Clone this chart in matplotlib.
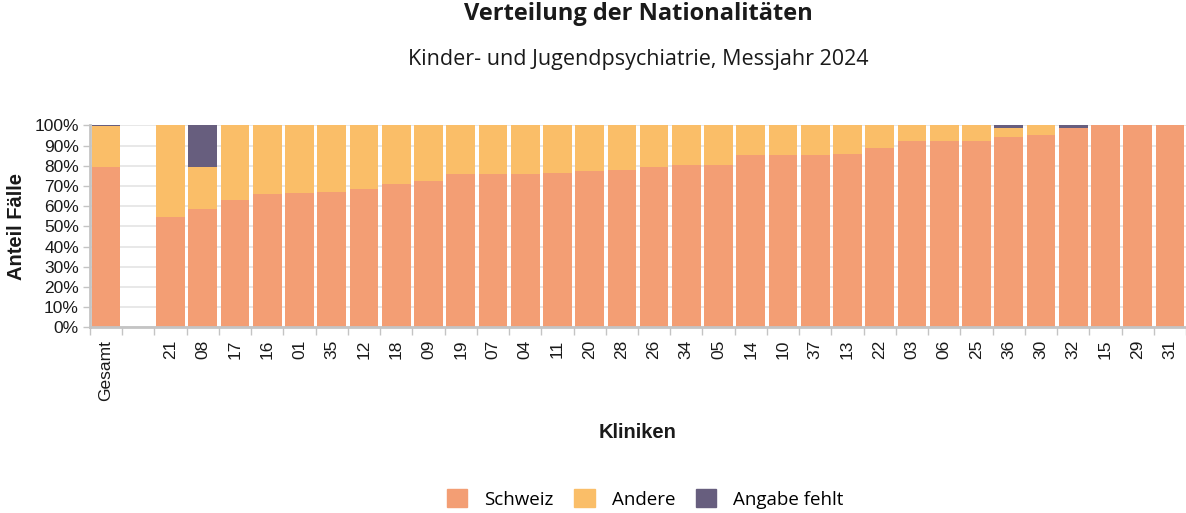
import numpy as np
import matplotlib
matplotlib.use("Agg")
import matplotlib.pyplot as plt
from matplotlib.patches import Patch

# Anteile pro Klinik in Prozent (leere Spalte trennt Gesamt von den Kliniken)
kliniken = ["Gesamt", "", "21", "08", "17", "16", "01", "35", "12", "18", "09", "19",
            "07", "04", "11", "20", "28", "26", "34", "05", "14", "10", "37", "13",
            "22", "03", "06", "25", "36", "30", "32", "15", "29", "31"]
schweiz = [79.2, 0, 54.5, 58.4, 63.0, 66.0, 66.5, 67.1, 68.3, 71.1, 72.3, 75.7,
           75.7, 75.7, 76.5, 77.4, 77.9, 79.5, 80.5, 80.5, 85.3, 85.3, 85.3, 85.8,
           88.9, 92.2, 92.2, 92.2, 94.2, 95.3, 98.5, 100, 100, 100]
andere = [20.3, 0, 45.5, 21.1, 37.0, 34.0, 33.5, 32.9, 31.7, 28.9, 27.7, 24.3,
          24.3, 24.3, 23.5, 22.6, 22.1, 20.5, 19.5, 19.5, 14.7, 14.7, 14.7, 14.2,
          11.1, 7.8, 7.8, 7.8, 4.3, 4.7, 0.2, 0, 0, 0]
fehlt = [0.5, 0, 0, 20.5, 0, 0, 0, 0, 0, 0, 0, 0,
         0, 0, 0, 0, 0, 0, 0, 0, 0, 0, 0, 0,
         0, 0, 0, 0, 1.5, 0, 1.3, 0, 0, 0]

farben = {"Schweiz": "#F39E74", "Andere": "#FABE68", "Angabe fehlt": "#675E7E"}
grau = "#c4c4c4"
textfarbe = "#1a1a1a"
schrift = "Liberation Sans"
titelschrift = "Open Sans"

fig = plt.figure(figsize=(11.86, 5.13), dpi=100)
ax = fig.add_axes([90 / 1186, 1 - 327.3 / 513, 1096 / 1186, 202 / 513])

x = np.arange(len(kliniken))
s = np.array(schweiz)
a = np.array(andere)
f = np.array(fehlt)
breite = 0.89
ax.bar(x, s, width=breite, color=farben["Schweiz"], zorder=2)
ax.bar(x, a, bottom=s, width=breite, color=farben["Andere"], zorder=2)
ax.bar(x, f, bottom=s + a, width=breite, color=farben["Angabe fehlt"], zorder=2)

ax.set_xlim(-0.5, len(kliniken) - 0.5)
ax.set_ylim(0, 100)

# Achsen
for seite in ["top", "right"]:
    ax.spines[seite].set_visible(False)
for seite in ["left", "bottom"]:
    ax.spines[seite].set_color(grau)
    ax.spines[seite].set_linewidth(2)
    ax.spines[seite].set_zorder(3)

ax.set_yticks(np.arange(0, 101, 10))
ax.set_yticklabels([f"{v}%" for v in range(0, 101, 10)], fontsize=12.5,
                   family=schrift, color=textfarbe)
ax.tick_params(axis="y", length=5, width=1, color=grau, pad=3)
ax.yaxis.grid(True, color="#e4e4e4", linewidth=1.2, zorder=0)

ax.set_xticks(np.arange(-0.5, len(kliniken), 1))
ax.set_xticklabels([])
ax.tick_params(axis="x", which="major", length=6, width=1, color=grau)
ax.set_xticks(x, minor=True)
ax.set_xticklabels(kliniken, minor=True, rotation=90, fontsize=12.5,
                   family=schrift, color=textfarbe)
ax.tick_params(axis="x", which="minor", length=0, pad=9)

ax.set_ylabel("Anteil Fälle", fontsize=14.5, fontweight="bold",
              family=schrift, color=textfarbe, labelpad=6)
ax.set_xlabel("Kliniken", fontsize=14.5, fontweight="bold",
              family=schrift, color=textfarbe, labelpad=16)

fig.text(638 / 1186, 1 - 14 / 513, "Verteilung der Nationalitäten", ha="center",
         va="center", fontsize=17, fontweight="bold", family=titelschrift,
         color=textfarbe)
fig.text(638 / 1186, 1 - 60 / 513, "Kinder- und Jugendpsychiatrie, Messjahr 2024",
         ha="center", va="center", fontsize=15.5, family=titelschrift,
         color=textfarbe)

handles = [Patch(color=c, label=n) for n, c in farben.items()]
fig.legend(handles=handles, loc="center", bbox_to_anchor=(645 / 1186, 1 - 499 / 513),
           ncol=3, frameon=False, handlelength=1.1, handleheight=1.1,
           columnspacing=1.1, handletextpad=0.9, prop={"family": titelschrift, "size": 13.5})

fig.savefig("out.png", dpi=100)
